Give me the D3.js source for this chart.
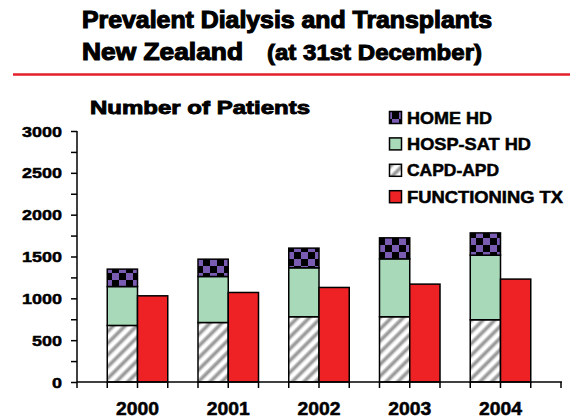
<!DOCTYPE html>
<html lang="en">
<head>
<meta charset="UTF-8">
<title>Prevalent Dialysis and Transplants</title>
<script src="https://d3js.org/d3.v7.min.js"></script>
<style>
  body { margin: 0; background: #fff; }
  text { font-family: "Liberation Sans", Arial, sans-serif; font-weight: bold; fill: #000; }
</style>
</head>
<body>
<svg width="570" height="419"></svg>
<script>
  // data
  const years = ["2000", "2001", "2002", "2003", "2004"];
  const capdApd = [676, 711, 780, 780, 744];
  const hospSatHd = [465, 550, 585, 692, 772];
  const homeHd = [208, 207, 235, 251, 266];
  const functioningTx = [1030, 1070, 1130, 1170, 1230];
  const yTicks = [0, 500, 1000, 1500, 2000, 2500, 3000];
  const legendLabels = ["HOME HD", "HOSP-SAT HD", "CAPD-APD", "FUNCTIONING TX"];

  const svg = d3.select("svg");
  const defs = svg.append("defs");

  // checker pattern for home HD
  const chk = defs.append("pattern").attr("id", "checker")
      .attr("patternUnits", "userSpaceOnUse")
      .attr("width", 14).attr("height", 14);
  chk.append("rect").attr("width", 14).attr("height", 14).attr("fill", "#000");
  chk.append("rect").attr("x", 7).attr("y", 0).attr("width", 7).attr("height", 7).attr("fill", "#7b5cb3");
  chk.append("rect").attr("x", 0).attr("y", 7).attr("width", 7).attr("height", 7).attr("fill", "#7b5cb3");

  // diagonal hatch for CAPD
  const hatch = defs.append("pattern").attr("id", "hatch")
      .attr("patternUnits", "userSpaceOnUse")
      .attr("width", 8.3).attr("height", 8.3)
      .attr("patternTransform", "rotate(45)");
  hatch.append("rect").attr("width", 8.3).attr("height", 8.3).attr("fill", "#fff");
  hatch.append("rect").attr("x", 1).attr("width", 5).attr("height", 8.3).attr("fill", "#d4d4d4");
  hatch.append("rect").attr("x", 2.2).attr("width", 2.6).attr("height", 8.3).attr("fill", "#9a9a9a");

  const fills = {home: "url(#checker)", hosp: "#a8d9b9", capd: "url(#hatch)", tx: "#ee2224"};

  function label(parent, x, y, str, size, len, anchor, weight) {
    return parent.append("text")
        .attr("x", x).attr("y", y)
        .attr("font-size", size)
        .attr("text-anchor", anchor || "start")
        .attr("textLength", len)
        .attr("lengthAdjust", "spacingAndGlyphs")
        .attr("stroke", "#000")
        .attr("stroke-width", weight || 0.35)
        .text(str);
  }

  // title
  label(svg, 82, 28, "Prevalent Dialysis and Transplants", 23, 410, "start", 1.1);
  label(svg, 82, 60, "New Zealand", 23, 161, "start", 1.1);
  label(svg, 267, 60, "(at 31st December)", 22, 215, "start", 1.0);
  svg.append("line").attr("x1", 13).attr("x2", 570).attr("y1", 74.5).attr("y2", 74.5)
      .attr("stroke", "#e5202b").attr("stroke-width", 2.5);

  label(svg, 90, 114, "Number of Patients", 19, 220, "start", 0.9);

  // scales
  const slot = 30.25;
  const x = d3.scaleBand().domain(years).range([77, 77 + slot * 3 * years.length]);
  const y = d3.scaleLinear().domain([0, 3000]).range([382, 131]);

  // stacked dialysis bars
  const rows = years.map((yr, i) => ({year: yr, capd: capdApd[i], hosp: hospSatHd[i], home: homeHd[i]}));
  const stack = d3.stack().keys(["capd", "hosp", "home"])(rows);

  const bars = svg.append("g").attr("stroke", "#000").attr("stroke-width", 1.5);
  stack.forEach(layer => {
    bars.selectAll(null).data(layer).join("rect")
        .attr("x", d => x(d.data.year) + slot)
        .attr("width", slot)
        .attr("y", d => y(d[1]))
        .attr("height", d => y(d[0]) - y(d[1]))
        .attr("fill", fills[layer.key]);
  });
  bars.selectAll(null).data(years).join("rect")
      .attr("x", d => x(d) + slot * 2)
      .attr("width", slot)
      .attr("y", (d, i) => y(functioningTx[i]))
      .attr("height", (d, i) => y(0) - y(functioningTx[i]))
      .attr("fill", fills.tx);

  // y axis
  const yAxis = svg.append("g").attr("transform", "translate(77,0)")
      .call(d3.axisLeft(y).tickValues(d3.range(0, 3001, 250)).tickSize(6).tickFormat(""));
  yAxis.select(".domain").attr("stroke-width", 1.5).attr("d", "M0," + y(3000) + "V" + y(0));
  yAxis.selectAll(".tick line").attr("stroke-width", 1.5);
  yTicks.forEach(t => {
    const s = String(t);
    label(svg, 62, y(t) + 5.5, s, 15.5, s.length * 10, "end", 0.5);
  });

  // x axis
  const xTickPos = d3.range(0, 17).map(k => 77 + k * slot);
  const xg = svg.append("g").attr("stroke", "#000").attr("stroke-width", 1.5);
  xg.append("line").attr("x1", 77).attr("x2", d3.max(xTickPos) + 1).attr("y1", y(0)).attr("y2", y(0));
  xg.selectAll(null).data(xTickPos).join("line")
      .attr("x1", d => d).attr("x2", d => d)
      .attr("y1", y(0)).attr("y2", y(0) + 6);
  years.forEach(yr => label(svg, x(yr) + slot * 2, 415, yr, 18, 43, "middle", 0.5));

  // legend
  const legFills = [fills.home, fills.hosp, fills.capd, fills.tx];
  const legLens = [85, 124, 92, 156];
  legendLabels.forEach((s, i) => {
    const base = 123.5 + i * 26.4;
    svg.append("rect").attr("x", 389.5).attr("y", base - 12).attr("width", 12).attr("height", 12)
        .attr("fill", legFills[i]).attr("stroke", "#000").attr("stroke-width", 1.5);
    label(svg, 407, base, s, 16.5, legLens[i], "start", 0.5);
  });
</script>
</body>
</html>
